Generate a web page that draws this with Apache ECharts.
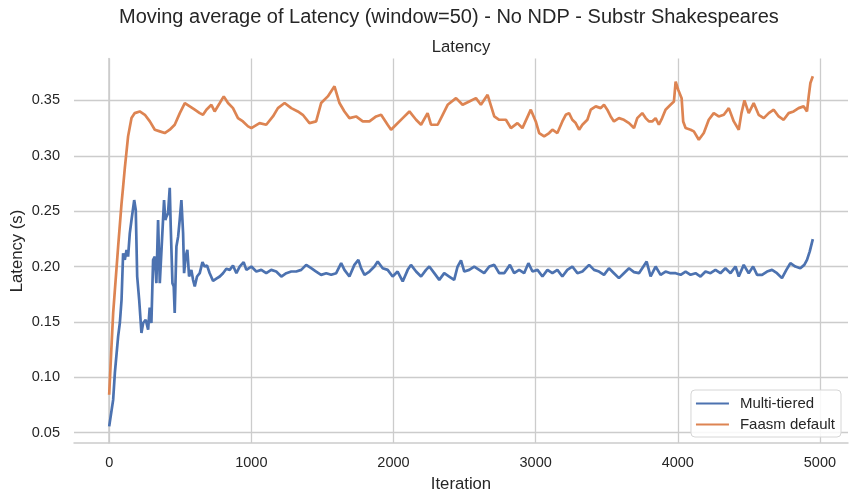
<!DOCTYPE html>
<html><head><meta charset="utf-8">
<script src="https://cdn.jsdelivr.net/npm/echarts@6/dist/echarts.min.js"></script>
<style>html,body{margin:0;padding:0;background:#fff}#c{width:858px;height:502px}</style>
</head><body><div id="c"></div>
<script>
const xTicks = [0, 1000, 2000, 3000, 4000, 5000];
const yTicks = [0.05, 0.10, 0.15, 0.20, 0.25, 0.30, 0.35];
const seriesNames = ['Multi-tiered', 'Faasm default'];

const multiX = [0, 28, 40, 63, 75, 87, 98, 110, 122, 133, 145, 157, 176, 187, 197, 211, 227, 239, 257, 274, 285, 297, 309, 321, 332, 344, 356, 368, 386, 395, 403, 414, 426, 433, 445, 454, 461, 473, 485, 496, 508, 520, 527, 538, 550, 562, 578, 590, 602, 618, 637, 656, 672, 688, 707, 731, 754, 778, 801, 824, 848, 871, 895, 918, 946, 965, 1000, 1035, 1070, 1105, 1140, 1175, 1211, 1246, 1281, 1316, 1351, 1386, 1421, 1456, 1491, 1527, 1562, 1597, 1632, 1655, 1690, 1725, 1753, 1772, 1796, 1831, 1866, 1889, 1924, 1959, 1994, 2029, 2065, 2100, 2123, 2159, 2194, 2229, 2252, 2287, 2322, 2357, 2392, 2427, 2451, 2475, 2498, 2533, 2568, 2603, 2638, 2674, 2709, 2744, 2779, 2819, 2849, 2884, 2919, 2949, 2978, 3013, 3048, 3083, 3118, 3153, 3188, 3223, 3258, 3294, 3329, 3376, 3411, 3446, 3481, 3516, 3551, 3586, 3621, 3657, 3692, 3727, 3750, 3781, 3809, 3844, 3879, 3914, 3949, 3985, 4020, 4055, 4090, 4125, 4160, 4195, 4230, 4265, 4300, 4335, 4371, 4406, 4429, 4464, 4499, 4530, 4558, 4593, 4628, 4663, 4698, 4733, 4764, 4792, 4827, 4862, 4890, 4909, 4928, 4950];
const multiY = [0.0557, 0.0798, 0.104, 0.137, 0.149, 0.170, 0.212, 0.206, 0.215, 0.209, 0.230, 0.242, 0.260, 0.251, 0.191, 0.170, 0.140, 0.149, 0.152, 0.143, 0.163, 0.149, 0.206, 0.209, 0.185, 0.242, 0.185, 0.185, 0.260, 0.242, 0.245, 0.248, 0.271, 0.236, 0.185, 0.182, 0.158, 0.218, 0.227, 0.242, 0.260, 0.230, 0.194, 0.209, 0.215, 0.191, 0.197, 0.188, 0.182, 0.191, 0.194, 0.204, 0.200, 0.201, 0.194, 0.187, 0.189, 0.191, 0.194, 0.198, 0.197, 0.201, 0.194, 0.200, 0.204, 0.197, 0.200, 0.1955, 0.197, 0.194, 0.197, 0.1955, 0.191, 0.194, 0.1955, 0.1955, 0.197, 0.2015, 0.1985, 0.1955, 0.1925, 0.194, 0.1925, 0.194, 0.203, 0.197, 0.191, 0.2015, 0.206, 0.1985, 0.1925, 0.1955, 0.200, 0.2045, 0.1985, 0.197, 0.191, 0.1955, 0.1865, 0.197, 0.2015, 0.1955, 0.191, 0.197, 0.200, 0.194, 0.188, 0.194, 0.191, 0.188, 0.200, 0.2055, 0.1955, 0.197, 0.200, 0.197, 0.194, 0.200, 0.2015, 0.194, 0.194, 0.2015, 0.194, 0.197, 0.194, 0.203, 0.1955, 0.197, 0.191, 0.197, 0.194, 0.197, 0.191, 0.197, 0.200, 0.194, 0.1955, 0.2015, 0.197, 0.1955, 0.1925, 0.1985, 0.194, 0.1895, 0.194, 0.1985, 0.195, 0.194, 0.1985, 0.2045, 0.191, 0.200, 0.1925, 0.1955, 0.194, 0.194, 0.1925, 0.1955, 0.1925, 0.194, 0.191, 0.1955, 0.194, 0.197, 0.194, 0.1985, 0.194, 0.200, 0.191, 0.2015, 0.194, 0.200, 0.1925, 0.1925, 0.1955, 0.197, 0.194, 0.1895, 0.197, 0.203, 0.200, 0.1985, 0.2015, 0.206, 0.2135, 0.2247];

const faasmX = [0, 14, 28, 63, 87, 98, 110, 133, 157, 180, 215, 251, 286, 321, 356, 391, 426, 461, 497, 532, 567, 602, 637, 660, 684, 719, 742, 778, 806, 836, 871, 906, 941, 977, 1000, 1058, 1105, 1152, 1187, 1234, 1281, 1327, 1362, 1409, 1456, 1491, 1538, 1585, 1620, 1655, 1690, 1737, 1784, 1831, 1878, 1913, 1959, 1983, 2018, 2065, 2112, 2159, 2194, 2240, 2264, 2311, 2346, 2381, 2440, 2486, 2533, 2580, 2615, 2662, 2709, 2744, 2791, 2826, 2872, 2907, 2966, 3001, 3025, 3060, 3095, 3118, 3153, 3188, 3212, 3235, 3258, 3282, 3306, 3329, 3364, 3388, 3423, 3458, 3481, 3504, 3528, 3551, 3586, 3621, 3657, 3692, 3715, 3750, 3774, 3797, 3820, 3844, 3867, 3890, 3914, 3949, 3973, 3985, 4003, 4027, 4038, 4055, 4090, 4113, 4148, 4183, 4218, 4253, 4288, 4324, 4359, 4394, 4429, 4448, 4469, 4499, 4534, 4569, 4605, 4640, 4675, 4710, 4745, 4780, 4815, 4850, 4885, 4909, 4921, 4933, 4950];
const faasmY = [0.0843, 0.122, 0.158, 0.218, 0.257, 0.272, 0.2888, 0.3175, 0.334, 0.3385, 0.340, 0.337, 0.331, 0.3235, 0.322, 0.3205, 0.3235, 0.328, 0.3385, 0.3476, 0.3446, 0.3416, 0.3385, 0.337, 0.3416, 0.346, 0.340, 0.3476, 0.3536, 0.3476, 0.343, 0.334, 0.331, 0.3265, 0.325, 0.3295, 0.328, 0.3355, 0.343, 0.3476, 0.343, 0.340, 0.337, 0.3295, 0.331, 0.3476, 0.3536, 0.3627, 0.3476, 0.340, 0.334, 0.3355, 0.331, 0.331, 0.3355, 0.337, 0.328, 0.3235, 0.328, 0.334, 0.340, 0.3325, 0.328, 0.3385, 0.328, 0.328, 0.337, 0.346, 0.352, 0.346, 0.349, 0.352, 0.346, 0.355, 0.3355, 0.3325, 0.3325, 0.325, 0.3295, 0.325, 0.3416, 0.331, 0.3205, 0.3175, 0.3205, 0.3235, 0.3205, 0.331, 0.337, 0.3385, 0.3325, 0.3295, 0.3235, 0.328, 0.3325, 0.3416, 0.3446, 0.343, 0.346, 0.3416, 0.3355, 0.331, 0.334, 0.3325, 0.3295, 0.325, 0.334, 0.3385, 0.334, 0.331, 0.331, 0.334, 0.328, 0.334, 0.3416, 0.346, 0.349, 0.367, 0.3596, 0.352, 0.331, 0.325, 0.3235, 0.322, 0.3144, 0.3205, 0.3325, 0.3385, 0.3355, 0.337, 0.343, 0.331, 0.3235, 0.3385, 0.350, 0.3385, 0.3476, 0.337, 0.334, 0.3385, 0.3416, 0.3355, 0.3325, 0.3385, 0.340, 0.343, 0.3446, 0.340, 0.3536, 0.3657, 0.3717];

const FONT = 'Liberation Sans, Arial, Helvetica, sans-serif';
const TXT = '#262626';
const pairs = (xs, ys) => xs.map((x, i) => [x, ys[i]]);

const chart = echarts.init(document.getElementById('c'), null, {renderer: 'canvas'});
chart.setOption({
  animation: false,
  backgroundColor: '#ffffff',
  grid: {left: 74, right: 10, top: 58.5, bottom: 59, containLabel: false},
  xAxis: {
    type: 'value', min: -247.5, max: 5197.5,
    axisLine: {show: true, lineStyle: {color: '#cccccc', width: 1.5}},
    axisTick: {show: false, customValues: xTicks},
    splitLine: {show: false},
    axisLabel: {customValues: xTicks, color: TXT, fontSize: 14.5, fontFamily: FONT, margin: 12,
      formatter: v => String(Math.round(v))}
  },
  yAxis: {
    type: 'value', min: 0.0407, max: 0.3878,
    axisLine: {show: true, lineStyle: {color: '#cccccc', width: 1.5}},
    axisTick: {show: false, customValues: yTicks},
    splitLine: {show: false},
    axisLabel: {customValues: yTicks, color: TXT, fontSize: 14.5, fontFamily: FONT, margin: 14,
      formatter: v => v.toFixed(2)}
  },
  legend: {
    data: seriesNames, orient: 'vertical', right: 17, top: 390,
    icon: 'rect', itemWidth: 33, itemHeight: 2.2, itemGap: 6,
    backgroundColor: 'rgba(255,255,255,0.85)', borderColor: '#d6d6d6', borderWidth: 1, borderRadius: 4,
    padding: [6, 6, 5, 5],
    textStyle: {color: TXT, fontSize: 15, fontFamily: FONT, padding: [0, 0, 0, 6]}
  },
  graphic: [
    {type: 'text', left: 119, top: 7, style: {text: 'Moving average of Latency (window=50) - No NDP - Substr Shakespeares', fill: TXT, font: '20px ' + FONT}},
    {type: 'text', x: 461, y: 47.5, style: {text: 'Latency', fill: TXT, font: '16.7px ' + FONT, textAlign: 'center', textVerticalAlign: 'middle'}},
    {type: 'text', x: 461, y: 484, style: {text: 'Iteration', fill: TXT, font: '16.7px ' + FONT, textAlign: 'center', textVerticalAlign: 'middle'}},
    {type: 'text', x: 17, y: 251, rotation: Math.PI / 2, style: {text: 'Latency (s)', fill: TXT, font: '16.7px ' + FONT, textAlign: 'center', textVerticalAlign: 'middle'}}
  ],
  series: [
    {
      type: 'line', name: '_grid', data: [], z: 1, silent: true,
      markLine: {
        silent: true, symbol: 'none', animation: false, z: 1,
        label: {show: false},
        lineStyle: {color: '#cccccc', width: 1.3, type: 'solid'},
        emphasis: {disabled: true},
        data: [...xTicks.map(v => ({xAxis: v})), ...yTicks.map(v => ({yAxis: v}))]
      }
    },
    {type: 'line', name: seriesNames[0], data: pairs(multiX, multiY), showSymbol: false, symbol: 'none', z: 3,
      color: '#4c72b0', lineStyle: {color: '#4c72b0', width: 2.7}},
    {type: 'line', name: seriesNames[1], data: pairs(faasmX, faasmY), showSymbol: false, symbol: 'none', z: 3,
      color: '#dd8452', lineStyle: {color: '#dd8452', width: 2.7}}
  ]
});
</script></body></html>
